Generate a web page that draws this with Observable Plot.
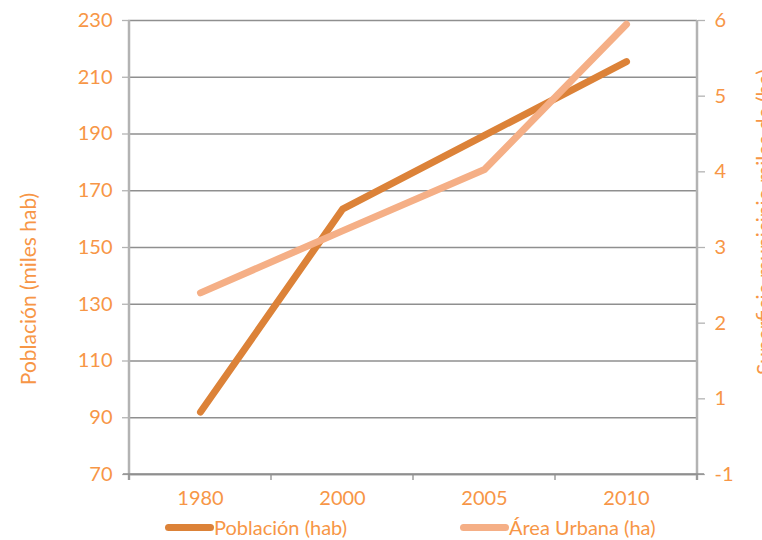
<!DOCTYPE html>
<html>
<head>
<meta charset="utf-8">
<script src="https://cdn.jsdelivr.net/npm/d3@7"></script>
<script src="https://cdn.jsdelivr.net/npm/@observablehq/plot@0.6"></script>
<style>
  html, body { margin: 0; padding: 0; background: #fff; }
  #wrap { position: relative; width: 762px; height: 540px; font-family: Lato, sans-serif; overflow: hidden; }
  .legend { position: absolute; top: 514px; height: 26px; display: flex; align-items: center; font-size: 20px; color: #F79646; }
  .sw { display: inline-block; width: 49px; height: 7px; border-radius: 4px; }
</style>
</head>
<body>
<div id="wrap"></div>
<script>
// Población (miles de habitantes) y superficie urbana (miles de ha) por año
const years = ["1980", "2000", "2005", "2010"];
const poblacion = [92, 163.5, 189.5, 215.5];
const areaUrbana = [2.4, 3.22, 4.03, 5.95];

const leftTicks = [70, 90, 110, 130, 150, 170, 190, 210, 230];
const rightTicks = [0, 1, 2, 3, 4, 5, 6];
const rightTickLabels = ["-1", "1", "2", "3", "4", "5", "6"];

const leftTitle = "Población (miles hab)";
const rightTitle = "Superficie municipio miles de (ha)";
const seriesNames = ["Población (hab)", "Área Urbana (ha)"];

const colPob = "#DC8238";
const colArea = "#F5AF86";
const textCol = "#F79646";
const gridCol = "#8f8f8f";
const axisCol = "#b3b3b3";

// the right axis (0–6) shares the frame with the left axis (70–230)
const yMin = 70, yMax = 230, rMin = 0, rMax = 6;
const toLeft = v => yMin + (v - rMin) * (yMax - yMin) / (rMax - rMin);

const pobData = years.map((y, i) => ({year: y, value: poblacion[i]}));
const areaData = years.map((y, i) => ({year: y, value: toLeft(areaUrbana[i])}));

const W = 762, H = 514;
const mL = 128, mR = 65, mT = 20, mB = 40;

const chart = Plot.plot({
  width: W,
  height: H,
  marginLeft: mL,
  marginRight: mR,
  marginTop: mT,
  marginBottom: mB,
  style: {fontFamily: "Lato, sans-serif", fontSize: "20px", background: "#fff", overflow: "visible"},
  x: {type: "point", domain: years, padding: 0.5},
  y: {domain: [yMin, yMax]},
  marks: [
    Plot.gridY(leftTicks, {stroke: gridCol, strokeOpacity: 1, strokeWidth: 1.3}),
    Plot.axisY(leftTicks, {anchor: "left", tickSize: 6, tickPadding: 10, fill: textCol, stroke: axisCol, strokeWidth: 1.3, label: null, fontSize: 20}),
    Plot.axisY(rightTicks.map(toLeft), {anchor: "right", tickSize: 7, tickPadding: 10, fill: textCol, stroke: axisCol, strokeWidth: 1.3, label: null, fontSize: 20,
      tickFormat: (d, i) => rightTickLabels[i]}),
    Plot.axisX({anchor: "bottom", tickSize: 0, tickPadding: 16, fill: textCol, label: null, fontSize: 20}),
    Plot.ruleY([yMin], {stroke: gridCol, strokeWidth: 1.3}),
    Plot.line(pobData, {x: "year", y: "value", stroke: colPob, strokeWidth: 7, strokeLinecap: "round", strokeLinejoin: "round"}),
    Plot.line(areaData, {x: "year", y: "value", stroke: colArea, strokeWidth: 7, strokeLinecap: "round", strokeLinejoin: "round"})
  ]
});

const wrap = document.getElementById("wrap");
wrap.appendChild(chart);

// vertical axis lines, category separators on the bottom axis, axis titles
const svg = d3.select(chart);
const xs = chart.scale("x");
const ys = chart.scale("y");
const yTop = ys.apply(yMax), yBase = ys.apply(yMin);
const step = xs.apply(years[1]) - xs.apply(years[0]);
const xLeft = xs.apply(years[0]) - step / 2;
const xRight = xs.apply(years[years.length - 1]) + step / 2;
const bounds = [xLeft, ...years.map(y => xs.apply(y) + step / 2)];

svg.append("g").selectAll("line").data([xLeft, xRight]).join("line")
  .attr("x1", d => d).attr("x2", d => d)
  .attr("y1", yTop).attr("y2", yBase + 6)
  .attr("stroke", axisCol).attr("stroke-width", 2.5);
svg.append("g").selectAll("line").data(bounds).join("line")
  .attr("x1", d => d).attr("x2", d => d)
  .attr("y1", yBase).attr("y2", yBase + 6)
  .attr("stroke", gridCol).attr("stroke-width", 1.3);
svg.append("line")
  .attr("x1", xLeft - 6).attr("x2", xRight + 7)
  .attr("y1", yBase).attr("y2", yBase)
  .attr("stroke", gridCol).attr("stroke-width", 1.3);

svg.append("text")
  .attr("transform", "translate(31,289) rotate(-90)")
  .attr("text-anchor", "middle").attr("dominant-baseline", "middle")
  .attr("fill", textCol).attr("font-size", 21)
  .text(leftTitle);
svg.append("text")
  .attr("transform", "translate(767,222) rotate(-90)")
  .attr("text-anchor", "middle").attr("dominant-baseline", "middle")
  .attr("fill", textCol).attr("font-size", 21)
  .text(rightTitle);

// legend below the chart
const legendPos = [165, 460];
const legendCols = [colPob, colArea];
seriesNames.forEach((name, i) => {
  const item = document.createElement("div");
  item.className = "legend";
  item.style.left = legendPos[i] + "px";
  item.innerHTML = `<span class="sw" style="background:${legendCols[i]}"></span><span>${name}</span>`;
  wrap.appendChild(item);
});
</script>
</body>
</html>
